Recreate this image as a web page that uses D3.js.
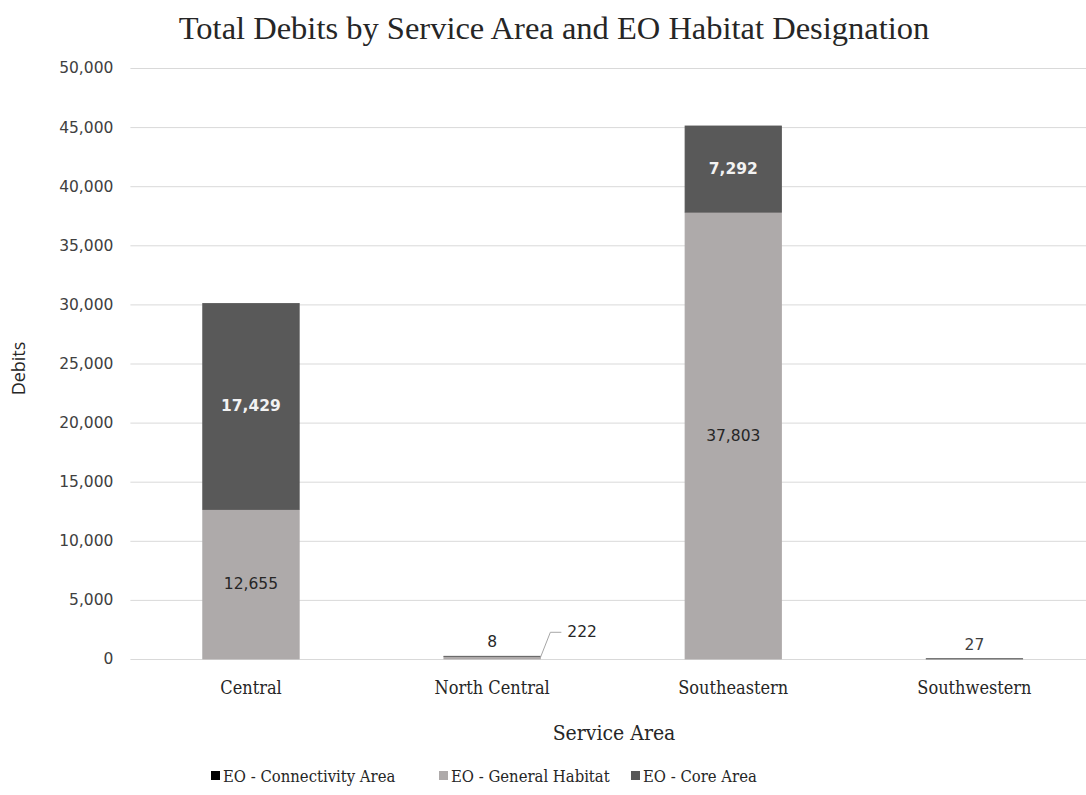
<!DOCTYPE html>
<html>
<head>
<meta charset="utf-8">
<script src="https://cdn.jsdelivr.net/npm/d3@7"></script>
<style>
  html, body { margin: 0; padding: 0; background: #fff; }
  svg { display: block; }
</style>
</head>
<body>
<svg id="chart" width="1086" height="795"></svg>
<script>
// Service areas and debit totals per EO habitat designation
const areas = ["Central", "North Central", "Southeastern", "Southwestern"];
const connectivityArea = [0, 0, 0, 0];
const generalHabitat = [12655, 222, 37803, 0];
const coreArea = [17429, 8, 7292, 27];
const seriesNames = ["EO - Connectivity Area", "EO - General Habitat", "EO - Core Area"];
const yTicks = [0, 5000, 10000, 15000, 20000, 25000, 30000, 35000, 40000, 45000, 50000];

const colors = ["#000000", "#aeaaaa", "#595959"];
const labelColors = ["#ffffff", "#262626", "#f2f2f2"];

const svg = d3.select("#chart");
const plot = { left: 130.4, right: 1095, top: 68, bottom: 659 };
const serif = "'DejaVu Serif Condensed', 'DejaVu Serif', serif";
const labelFont = "'DejaVu Sans', sans-serif";

const rows = areas.map((a, i) => ({
  area: a,
  c0: connectivityArea[i],
  c1: generalHabitat[i],
  c2: coreArea[i]
}));
const stack = d3.stack().keys(["c0", "c1", "c2"])(rows);

const x = d3.scaleBand().domain(areas).range([plot.left, plot.right])
  .paddingInner(0.6).paddingOuter(0.3);
const y = d3.scaleLinear().domain([0, 50000]).range([plot.bottom, plot.top]);

// Gridlines and value axis
const yAxis = d3.axisLeft(y).tickValues(yTicks).tickSize(-(plot.right - plot.left))
  .tickPadding(17).tickFormat(d3.format(","));
const gy = svg.append("g").attr("transform", `translate(${plot.left},0)`).call(yAxis);
gy.select(".domain").remove();
gy.selectAll(".tick line").attr("stroke", "#d9d9d9").attr("stroke-width", 1);
gy.selectAll(".tick text").attr("fill", "#404040")
  .style("font-family", labelFont).style("font-size", "15.5px");

// Category axis
const xAxis = d3.axisBottom(x).tickSize(0).tickPadding(22);
const gx = svg.append("g").attr("transform", `translate(0,${plot.bottom})`).call(xAxis);
gx.select(".domain").remove();
gx.selectAll(".tick text").attr("fill", "#262626")
  .style("font-family", serif).style("font-size", "18px");

// Stacked bars
const layers = svg.append("g").selectAll("g").data(stack).join("g")
  .attr("fill", (d, i) => colors[i]).attr("stroke", (d, i) => colors[i]);
layers.selectAll("rect").data(d => d.filter(s => s[1] - s[0] > 0)).join("rect")
  .attr("x", d => x(d.data.area))
  .attr("width", x.bandwidth())
  .attr("y", d => y(d[1]))
  .attr("height", d => y(d[0]) - y(d[1]))
  .attr("stroke-width", 0.8);

// Data labels centred in the taller segments
const fmt = d3.format(",");
stack.forEach((layer, si) => {
  layer.forEach(seg => {
    const v = seg[1] - seg[0];
    if (v <= 0) return;
    const cx = x(seg.data.area) + x.bandwidth() / 2;
    const hPx = y(seg[0]) - y(seg[1]);
    if (hPx > 30) {
      svg.append("text").attr("x", cx).attr("y", y((seg[0] + seg[1]) / 2))
        .attr("text-anchor", "middle").attr("dominant-baseline", "central")
        .attr("fill", labelColors[si])
        .style("font-family", labelFont).style("font-size", "15.5px")
        .style("font-weight", si === 2 ? "bold" : "normal")
        .text(fmt(v));
    }
  });
});

// Small segments: labels placed above the bar, one pulled aside with a leader line
const smallTop = (i) => y(connectivityArea[i] + generalHabitat[i] + coreArea[i]);
function topLabel(i, value, fill) {
  svg.append("text").attr("x", x(areas[i]) + x.bandwidth() / 2).attr("y", smallTop(i) - 14)
    .attr("text-anchor", "middle").attr("dominant-baseline", "central")
    .attr("fill", fill).style("font-family", labelFont).style("font-size", "15.5px")
    .text(fmt(value));
}
topLabel(1, coreArea[1], "#262626");
topLabel(3, coreArea[3], "#404040");

// Leader line for the North Central general habitat value
const ncRight = x(areas[1]) + x.bandwidth();
const ncMid = y(generalHabitat[1] / 2);
const lx = ncRight + 10, ly = smallTop(1) - 24;
svg.append("path")
  .attr("d", `M${ncRight},${ncMid}L${lx},${ly}L${lx + 11},${ly}`)
  .attr("fill", "none").attr("stroke", "#a6a6a6").attr("stroke-width", 1);
svg.append("text").attr("x", lx + 17).attr("y", ly)
  .attr("dominant-baseline", "central").attr("fill", "#262626")
  .style("font-family", labelFont).style("font-size", "15.5px")
  .text(fmt(generalHabitat[1]));

// Title
svg.append("text").attr("x", 554).attr("y", 39).attr("text-anchor", "middle")
  .attr("fill", "#262626")
  .style("font-family", "'Liberation Serif', serif").style("font-size", "32.5px")
  .text("Total Debits by Service Area and EO Habitat Designation");

// Axis titles
svg.append("text").attr("transform", `translate(25,${(plot.top + plot.bottom) / 2 + 5}) rotate(-90)`)
  .attr("text-anchor", "middle").attr("fill", "#262626")
  .style("font-family", "'Open Sans', sans-serif").style("font-size", "18px")
  .text("Debits");
svg.append("text").attr("x", 614).attr("y", 740).attr("text-anchor", "middle")
  .attr("fill", "#262626")
  .style("font-family", serif).style("font-size", "21px")
  .text("Service Area");

// Legend
const legendX = [211, 439, 631];
const lg = svg.append("g").attr("transform", "translate(0,776)");
seriesNames.forEach((name, i) => {
  const g = lg.append("g").attr("transform", `translate(${legendX[i]},0)`);
  g.append("rect").attr("x", 0).attr("y", -5).attr("width", 9).attr("height", 9).attr("fill", colors[i]);
  g.append("text").attr("x", 12).attr("y", 0).attr("dominant-baseline", "central")
    .attr("fill", "#262626")
    .style("font-family", serif).style("font-size", "16.5px")
    .text(name);
});
</script>
</body>
</html>
